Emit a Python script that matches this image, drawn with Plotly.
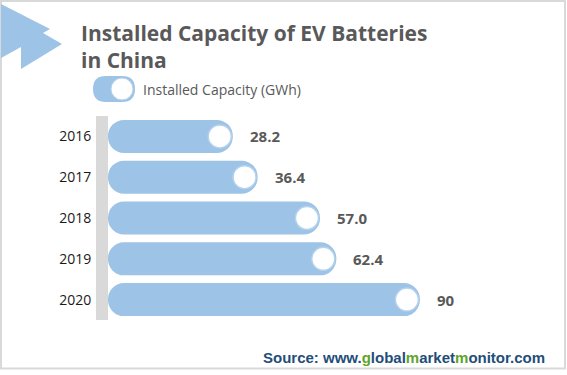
import plotly.graph_objects as go

# ---- data ----
years = ["2016", "2017", "2018", "2019", "2020"]
capacity = [28.2, 36.4, 57.0, 62.4, 90]
capacity_labels = ["28.2", "36.4", "57.0", "62.4", "90"]
series_name = "Installed Capacity (GWh)"
title_text = "Installed Capacity of EV Batteries<br>in China"

# ---- layout geometry ----
W, H = 567, 375
ML, MR, MT, MB = 108, 26, 116, 55
PW, PH = W - ML - MR, H - MT - MB
AXIS_MIN, AXIS_MAX = -13, 130
UNIT_PX = PW / (AXIS_MAX - AXIS_MIN)
CIRCLE_INSET = 13 / UNIT_PX  # circle sits just inside the bar end

BAR_COLOR = "#9dc3e6"
TEXT_GRAY = "#595959"

pos = list(range(len(years)))


def px(x):
    return (x - ML) / PW


def py(y):
    return (H - MB - y) / PH


fig = go.Figure()

fig.add_trace(go.Bar(
    y=pos, x=[v - AXIS_MIN for v in capacity], base=AXIS_MIN,
    orientation="h", name=series_name, width=0.81,
    marker=dict(color=BAR_COLOR, cornerradius=16, line=dict(width=0)),
    hoverinfo="skip", showlegend=False,
))

fig.add_trace(go.Scatter(
    y=pos, x=[v - CIRCLE_INSET for v in capacity], mode="markers",
    marker=dict(size=23, color="white", line=dict(color="#b4d2ec", width=1.5)),
    hoverinfo="skip", showlegend=False,
))

annotations = []
for p, v, lab in zip(pos, capacity, capacity_labels):
    annotations.append(dict(
        x=v, y=p, xref="x", yref="y", text=lab, showarrow=False,
        xanchor="left", xshift=15,
        font=dict(family="Open Sans", size=15, color=TEXT_GRAY, weight="bold"),
    ))

# title
annotations.append(dict(
    x=px(79), y=py(17), xref="paper", yref="paper", text=title_text,
    showarrow=False, xanchor="left", yanchor="top", align="left",
    font=dict(family="Open Sans", size=21, color=TEXT_GRAY, weight="bold"),
))
# legend text
annotations.append(dict(
    x=px(141), y=py(89), xref="paper", yref="paper", text=series_name,
    showarrow=False, xanchor="left", yanchor="middle",
    font=dict(family="Open Sans", size=14, color=TEXT_GRAY),
))
# source
src = ("Source: www.<span style='color:#5ea52b'>g</span>lobal"
       "<span style='color:#5ea52b'>m</span>arket"
       "<span style='color:#5ea52b'>m</span>onitor.com")
annotations.append(dict(
    x=px(547), y=py(357), xref="paper", yref="paper", text=src,
    showarrow=False, xanchor="right", yanchor="middle",
    font=dict(family="Liberation Sans, Arial", size=15, color="#1f4e79", weight="bold"),
))

shapes = []
# outer border
shapes.append(dict(type="rect", xref="paper", yref="paper",
                   x0=px(1), x1=px(565), y0=py(1), y1=py(368.5),
                   line=dict(color="#d9d9d9", width=2), layer="below"))
# arrow decoration
arrow_pts = [(1, 4), (50, 29), (43, 33), (62, 44), (21, 69), (21, 47), (1, 58)]
path = "M " + " L ".join(f"{px(x)},{py(y)}" for x, y in arrow_pts) + " Z"
shapes.append(dict(type="path", xref="paper", yref="paper", path=path,
                   fillcolor=BAR_COLOR, line=dict(width=0)))
# legend pill
x0, x1, y0, y1 = 93, 135, 76, 102
r = (y1 - y0) / 2
pill = (f"M {px(x0 + r)},{py(y0)} L {px(x1 - r)},{py(y0)} "
        f"Q {px(x1)},{py(y0)} {px(x1)},{py(y0 + r)} "
        f"Q {px(x1)},{py(y1)} {px(x1 - r)},{py(y1)} "
        f"L {px(x0 + r)},{py(y1)} "
        f"Q {px(x0)},{py(y1)} {px(x0)},{py(y0 + r)} "
        f"Q {px(x0)},{py(y0)} {px(x0 + r)},{py(y0)} Z")
shapes.append(dict(type="path", xref="paper", yref="paper", path=pill,
                   fillcolor=BAR_COLOR, line=dict(width=0)))
shapes.append(dict(type="circle", xref="paper", yref="paper",
                   x0=px(111), x1=px(133), y0=py(78), y1=py(100),
                   fillcolor="white", line=dict(color="#b4d2ec", width=1)))

fig.update_layout(
    width=W, height=H,
    margin=dict(l=ML, r=MR, t=MT, b=MB),
    paper_bgcolor="white", plot_bgcolor="white",
    showlegend=False,
    xaxis=dict(range=[AXIS_MIN, AXIS_MAX], visible=False, fixedrange=True),
    yaxis=dict(
        range=[len(years) - 0.5, -0.5], fixedrange=True,
        tickmode="array", tickvals=pos, ticktext=years,
        showline=True, linecolor="#d9d9d9", linewidth=12,
        showgrid=False, zeroline=False, ticks="",
        tickfont=dict(family="Open Sans", size=14, color="#1a1a1a"),
        ticklabelstandoff=2,
    ),
    annotations=annotations,
    shapes=shapes,
)

fig.write_html("out.html", config={"displayModeBar": False},
               post_script="document.body.style.margin='0';document.body.style.padding='0';")
